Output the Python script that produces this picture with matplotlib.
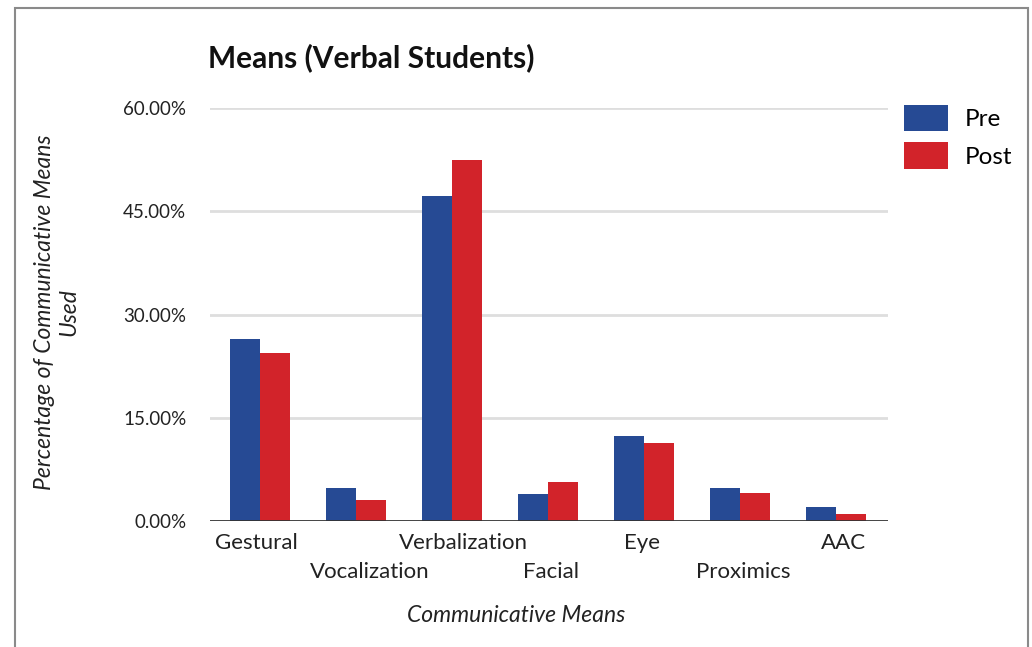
import matplotlib
matplotlib.use("Agg")
import matplotlib.pyplot as plt
from matplotlib.patches import Rectangle
import numpy as np

categories = ["Gestural", "Vocalization", "Verbalization", "Facial", "Eye", "Proximics", "AAC"]
pre = [26.4, 4.8, 47.2, 3.9, 12.3, 4.8, 2.0]
post = [24.4, 3.0, 52.5, 5.7, 11.3, 4.0, 1.0]
yticks = [0, 15, 30, 45, 60]
series_names = ["Pre", "Post"]
colors = ["#264a94", "#d2232a"]

FONT = "Lato"
W, H = 1032, 647
fig = plt.figure(figsize=(W / 100, H / 100), dpi=100)
fig.patch.set_facecolor("white")

# border
fig.add_artist(Rectangle((15 / W, -0.05), (1028 - 15) / W, 1 - 8 / H + 0.05,
                         transform=fig.transFigure, fill=False,
                         edgecolor="#8a8a8a", linewidth=1.5))

ax = fig.add_axes([210 / W, 1 - 521 / H, (888 - 210) / W, (521 - 108) / H])
x = np.arange(len(categories))
bw = 0.31
ax.bar(x - bw / 2, pre, width=bw, color=colors[0], label=series_names[0], zorder=3)
ax.bar(x + bw / 2, post, width=bw, color=colors[1], label=series_names[1], zorder=3)

ax.set_xlim(-0.52, 6.54)
ax.set_ylim(0, 60)
ax.set_yticks(yticks)
ax.set_yticklabels([f"{v:.2f}%" for v in yticks], fontsize=13.5, family=FONT, color="#222222")
ax.tick_params(axis="y", length=0, pad=17)
for v in yticks[1:]:
    ax.axhline(v, color="#dedede", linewidth=2, zorder=1)
ax.axhline(0, color="#333333", linewidth=2, zorder=4)
for s in ax.spines.values():
    s.set_visible(False)

ax.set_xticks([])
offsets = [-0.04, 0.14, 0.12, 0.03, -0.02, 0.03, 0.08]
for i, c in enumerate(categories):
    yy = -0.053 if i % 2 == 0 else -0.123
    ax.text(x[i] + offsets[i], yy, c, transform=ax.get_xaxis_transform(),
            ha="center", va="center", fontsize=16, family=FONT, color="#222222")

fig.text(516 / W, 1 - 615 / H, "Communicative Means", ha="center", va="center",
         fontsize=16.5, style="italic", family=FONT, color="#222222")
fig.text(57 / W, 1 - 312 / H, "Percentage of Communicative Means\nUsed", ha="center",
         va="center", rotation=90, fontsize=16.5, style="italic", family=FONT,
         color="#222222", linespacing=1.2)

fig.text(208 / W, 1 - 58 / H, "Means (Verbal Students)", ha="left", va="center",
         fontsize=21.5, fontweight="bold", family=FONT, color="#111111")

leg = fig.legend(loc="upper left", bbox_to_anchor=(882 / W, 1 - 83 / H), frameon=False,
                 prop={"family": FONT, "size": 17.5}, handlelength=1.8, handleheight=1.3,
                 handletextpad=0.7, labelspacing=0.45)

fig.savefig("out.png", dpi=100, facecolor="white")
